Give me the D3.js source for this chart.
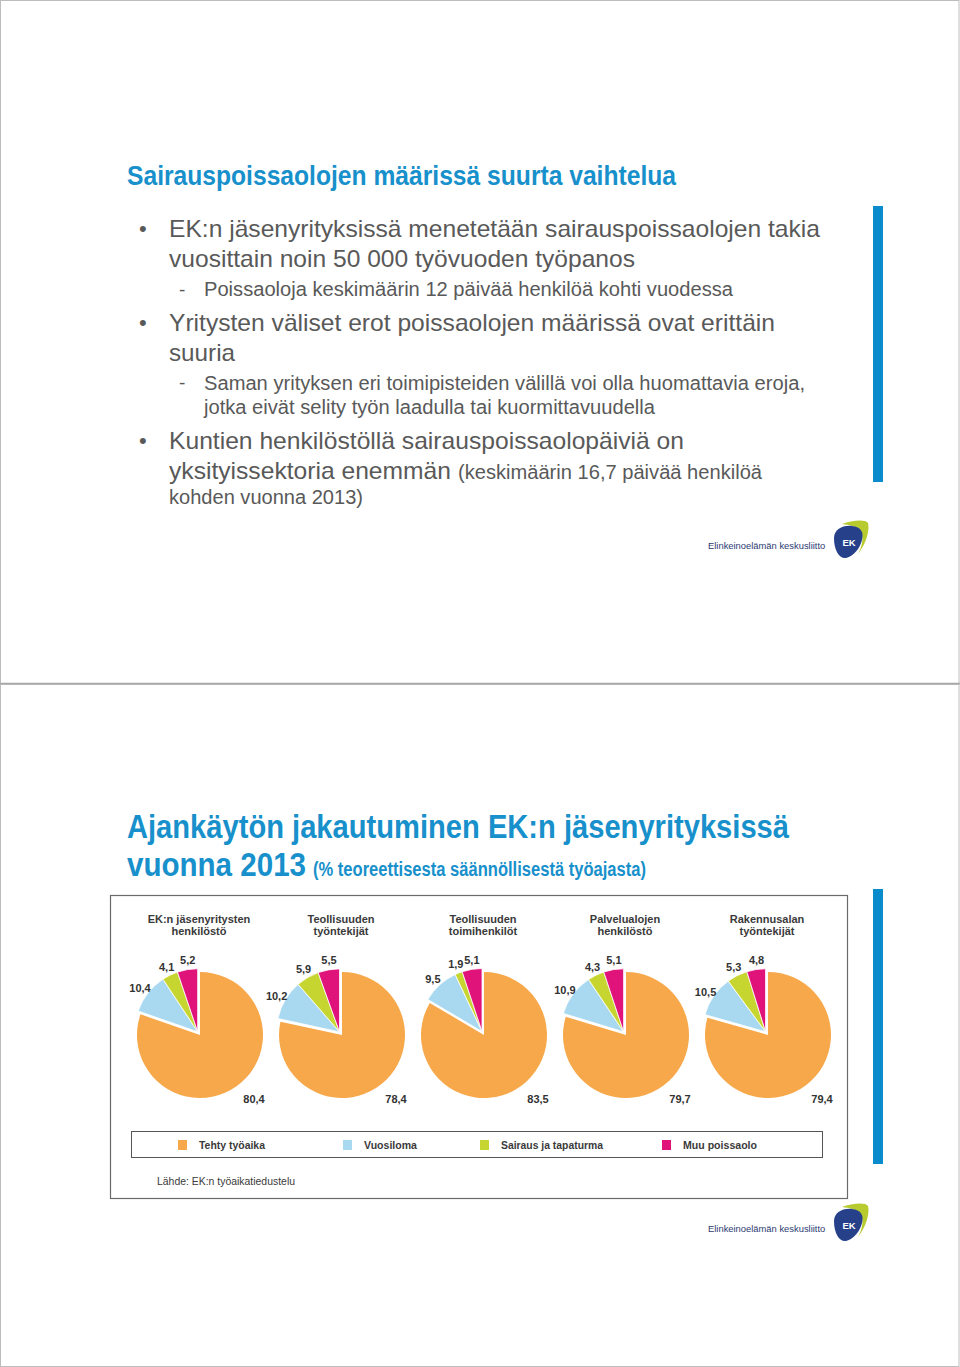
<!DOCTYPE html>
<html>
<head>
<meta charset="utf-8">
<script src="https://cdn.jsdelivr.net/npm/d3@7/dist/d3.min.js"></script>
<style>
  html, body { margin: 0; padding: 0; background: #fff; }
  svg { display: block; }
  text { font-family: "Liberation Sans", Arial, sans-serif; }
</style>
</head>
<body>
<svg id="chart" width="960" height="1367"></svg>
<script>
// ---------- DATA ----------
const groupLine1 = ["EK:n jäsenyritysten", "Teollisuuden", "Teollisuuden", "Palvelualojen", "Rakennusalan"];
const groupLine2 = ["henkilöstö", "työntekijät", "toimihenkilöt", "henkilöstö", "työntekijät"];
const categories = ["Tehty työaika", "Vuosiloma", "Sairaus ja tapaturma", "Muu poissaolo"];
const tehtyTyoaika = [80.4, 78.4, 83.5, 79.7, 79.4];
const vuosiloma = [10.4, 10.2, 9.5, 10.9, 10.5];
const sairaus = [4.1, 5.9, 1.9, 4.3, 5.3];
const muuPoissaolo = [5.2, 5.5, 5.1, 5.1, 4.8];
const colors = ["#F7A84A", "#A8D9F1", "#C7D530", "#E0137B"];

const title1 = "Sairauspoissaolojen määrissä suurta vaihtelua";
const title2a = "Ajankäytön jakautuminen EK:n jäsenyrityksissä";
const title2b = "vuonna 2013";
const title2c = "(% teoreettisesta säännöllisestä työajasta)";
const source = "Lähde: EK:n työaikatiedustelu";
const logoText = "Elinkeinoelämän keskusliitto";

// ---------- SETUP ----------
const svg = d3.select("#chart");
const BLUE = "#1790CB";
const GREY = "#595959";

function txt(g, x, y, s, o) {
  o = o || {};
  const t = g.append("text").attr("x", x).attr("y", y).text(s)
    .attr("font-size", o.size || 12)
    .attr("font-weight", o.weight || "normal")
    .attr("fill", o.fill || GREY)
    .attr("text-anchor", o.anchor || "start");
  if (o.w) t.attr("textLength", o.w).attr("lengthAdjust", "spacingAndGlyphs");
  if (o.baseline) t.attr("dominant-baseline", o.baseline);
  return t;
}

// page frames
svg.append("rect").attr("x", 0.5).attr("y", 0.5).attr("width", 958.5).attr("height", 683)
  .attr("fill", "none").attr("stroke", "#bdbdbd").attr("stroke-width", 1);
svg.append("rect").attr("x", 0.5).attr("y", 684.5).attr("width", 958.5).attr("height", 682)
  .attr("fill", "none").attr("stroke", "#bdbdbd").attr("stroke-width", 1);
svg.append("line").attr("x1", 0).attr("x2", 960).attr("y1", 683.5).attr("y2", 683.5)
  .attr("stroke", "#a8a8a8").attr("stroke-width", 1.5);

// ---------- PAGE 1 ----------
const p1 = svg.append("g");
txt(p1, 127, 185, title1, { size: 28, weight: "bold", fill: BLUE, w: 549 });

[236, 330, 448].forEach(y => txt(p1, 139, y, "•", { size: 22, fill: GREY }));
[296, 389].forEach(y => txt(p1, 179, y, "-", { size: 19, fill: GREY }));

const lines = [
  { x: 169, y: 237, s: "EK:n jäsenyrityksissä menetetään sairauspoissaolojen takia", size: 24, w: 651 },
  { x: 169, y: 267, s: "vuosittain noin 50 000 työvuoden työpanos", size: 24, w: 466 },
  { x: 204, y: 296, s: "Poissaoloja keskimäärin 12 päivää henkilöä kohti vuodessa", size: 19.5, w: 529 },
  { x: 169, y: 331, s: "Yritysten väliset erot poissaolojen määrissä ovat erittäin", size: 24, w: 606 },
  { x: 169, y: 361, s: "suuria", size: 24, w: 66 },
  { x: 204, y: 390, s: "Saman yrityksen eri toimipisteiden välillä voi olla huomattavia eroja,", size: 19.5, w: 601 },
  { x: 204, y: 414, s: "jotka eivät selity työn laadulla tai kuormittavuudella", size: 19.5, w: 451 },
  { x: 169, y: 449, s: "Kuntien henkilöstöllä sairauspoissaolopäiviä on", size: 24, w: 515 },
  { x: 169, y: 479, s: "yksityissektoria enemmän", size: 24, w: 282 },
  { x: 458, y: 479, s: "(keskimäärin 16,7 päivää henkilöä", size: 19.5, w: 304 },
  { x: 169, y: 504, s: "kohden vuonna 2013)", size: 19.5, w: 194 }
];
lines.forEach(l => txt(p1, l.x, l.y, l.s, { size: l.size, w: l.w, fill: GREY }));

// right accent bars
svg.append("rect").attr("x", 873).attr("y", 206).attr("width", 10).attr("height", 276).attr("fill", "#0A8BCB");
svg.append("rect").attr("x", 873).attr("y", 889).attr("width", 10).attr("height", 275).attr("fill", "#0A8BCB");

// logo
function drawLogo(y0) {
  const g = svg.append("g").attr("transform", `translate(0,${y0})`);
  txt(g, 708, 29, logoText, { size: 9.4, fill: "#2C3A72" });
  g.append("path")
    .attr("d", "M842,4 C852,0 866,-1 868,3 C870,10 866,24 858,34 C863,25 864,15 860,10 C856,6 849,5 842,4 Z")
    .attr("fill", "#B7CB2F");
  g.append("path")
    .attr("d", "M834,18 C834,10 842,5 852,6 C861,7 864,12 862,20 C860,28 854,36 846,38 C839,39 834,30 834,18 Z")
    .attr("fill", "#26408A");
  txt(g, 849, 26, "EK", { size: 9.5, weight: "bold", fill: "#fff", anchor: "middle" });
}
drawLogo(520);
drawLogo(1203);

// ---------- PAGE 2 ----------
const p2 = svg.append("g");
txt(p2, 127, 838, title2a, { size: 34, weight: "bold", fill: BLUE, w: 662 });
txt(p2, 127, 876, title2b, { size: 34, weight: "bold", fill: BLUE, w: 179 });
txt(p2, 313, 876, title2c, { size: 20, weight: "bold", fill: BLUE, w: 333 });

// chart box
p2.append("rect").attr("x", 110.5).attr("y", 895.5).attr("width", 737).attr("height", 303)
  .attr("fill", "#fff").attr("stroke", "#6a6a6a").attr("stroke-width", 1.2);

const x = d3.scaleBand().domain(d3.range(groupLine1.length)).range([129, 839]);
const cy = 1035, R = 63;
const pie = d3.pie().sort(null).value(d => d);
const arc = d3.arc().innerRadius(0).outerRadius(R);
const fmt = v => d3.format(".1f")(v).replace(".", ",");

groupLine1.forEach((name, i) => {
  const cx = x(i) + x.bandwidth() / 2;
  const vals = [tehtyTyoaika[i], vuosiloma[i], sairaus[i], muuPoissaolo[i]];
  const arcs = pie(vals);
  const g = p2.append("g").attr("transform", `translate(${cx},${cy})`);

  txt(p2, cx - 1, 923, groupLine1[i], { size: 11, weight: "bold", fill: "#3a3a3a", anchor: "middle" });
  txt(p2, cx - 1, 935, groupLine2[i], { size: 11, weight: "bold", fill: "#3a3a3a", anchor: "middle" });

  const gStart = arcs[1].startAngle, gEnd = arcs[3].endAngle;
  const mid = (gStart + gEnd) / 2, off = 4;
  const ox = Math.sin(mid) * off, oy = -Math.cos(mid) * off;

  g.selectAll("path").data(arcs).join("path")
    .attr("d", arc)
    .attr("fill", (d, k) => colors[k])
    .attr("stroke", "#fff")
    .attr("stroke-width", (d, k) => k === 0 ? 0 : 0.8)
    .attr("transform", (d, k) => k === 0 ? null : `translate(${ox},${oy})`);

  arcs.forEach((d, k) => {
    let a, r;
    if (k === 0) { a = Math.PI * 140 / 180; r = 84; }
    else { a = (d.startAngle + d.endAngle) / 2; r = 76; }
    const lx = Math.sin(a) * r, ly = -Math.cos(a) * r;
    txt(g, lx, ly, fmt(d.data), { size: 11, weight: "bold", fill: "#333", anchor: "middle", baseline: "central" });
  });
});

// legend
p2.append("rect").attr("x", 131.5).attr("y", 1131.5).attr("width", 691).attr("height", 26)
  .attr("fill", "#fff").attr("stroke", "#555").attr("stroke-width", 1);
const legendX = [178, 343, 480, 662];
const legendW = [66, 53, 102, 74];
categories.forEach((c, k) => {
  p2.append("rect").attr("x", legendX[k]).attr("y", 1140).attr("width", 9).attr("height", 10).attr("fill", colors[k]);
  txt(p2, legendX[k] + 21, 1149, c, { size: 11, weight: "bold", fill: "#3a3a3a", w: legendW[k] });
});

txt(p2, 157, 1185, source, { size: 11, fill: "#3a3a3a", w: 138 });
</script>
</body>
</html>
